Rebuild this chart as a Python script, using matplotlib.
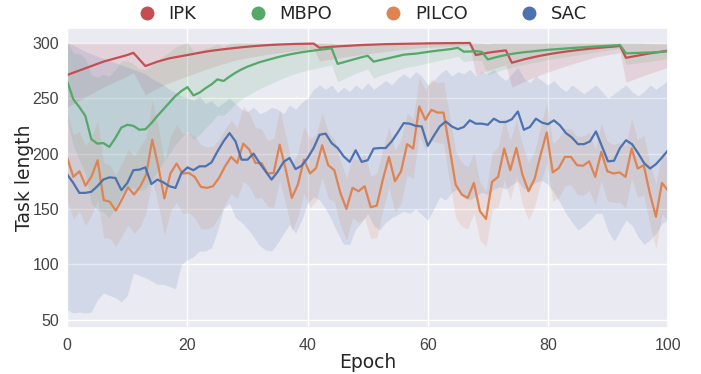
import numpy as np
import matplotlib
matplotlib.use('Agg')
import matplotlib.pyplot as plt
from matplotlib.lines import Line2D
import seaborn as sns

epochs = np.arange(101)
pilco_x = np.linspace(0, 100, 100)

ipk = [271, 273, 275, 277, 279, 281, 283, 284.5, 286, 287.5, 289, 291,
       285,
       279, 281, 283, 284.5, 286, 287, 288, 289, 290, 291, 292, 292.8, 293.5, 294.2, 294.8,
       295.4, 296, 296.5, 297, 297.4, 297.8, 298.1, 298.4, 298.6, 298.8, 299, 299.1, 299.2, 299.3,
       295.5, 296, 296.4, 296.8, 297.1, 297.4, 297.7, 298, 298.2, 298.4, 298.6, 298.8, 298.9,
       299, 299.1, 299.2, 299.3, 299.4, 299.5, 299.6, 299.6, 299.7, 299.7, 299.8, 299.8, 299.9,
       289, 290, 291, 291.8, 292.5, 293.2,
       282, 283.5, 285, 286.3, 287.5, 288.6, 289.6, 290.5, 291.3, 292.1, 292.8, 293.5, 294.1,
       294.7, 295.2, 295.7, 296.2, 296.6, 297.2,
       286.5, 287.5, 288.5, 289.5, 290.5, 291.3, 292.1, 293]
ipk_std = [29, 28, 27, 26, 25, 24, 23, 22, 21, 20, 19, 18,
           22,
           26, 25, 24, 23, 22, 21, 20, 19, 18, 17, 16, 15, 14, 13, 12, 11, 10.5, 10, 9.5, 9,
           8.5, 8, 7.5, 7, 6.5, 6, 5.5, 5, 4.5,
           12, 11.5, 11, 10.5, 10, 9.5, 9, 8.5, 8, 7.5, 7, 6.5, 6, 5.5, 5, 4.5, 4, 3.8, 3.6,
           3.4, 3.2, 3, 2.8, 2.6, 2.4, 2.2,
           18, 17, 16, 15, 14, 13,
           22, 21, 20, 19, 18, 17, 16, 15, 14, 13, 12, 11, 10, 9, 8, 7.5, 7, 6.5, 6,
           22, 21, 20, 19, 18, 17, 16, 15]

mbpo = [265, 249, 242, 234, 213, 209, 209.5, 206, 214, 223.5,
        226, 225, 221.5, 222, 227.5, 234, 240, 246, 252, 256.5,
        260, 252.5, 255, 259, 262.5, 267, 265.5, 269.5, 273, 276,
        278.5, 280.5, 282.5, 284, 285.5, 287, 288.3, 289.5, 290.5, 291.5,
        292.3, 293, 293.7, 294.3, 295, 281, 282.5, 284, 285.5, 287,
        288.3, 283, 284.3, 285.5, 286.8, 288, 289.3, 289.8, 290.2, 291,
        291.8, 292.5, 293.2, 293.8, 294.5, 295.5, 292, 292.2, 292.5, 291.8,
        285, 286.5, 287.8, 289, 290, 290.8, 291.5, 292, 292.6, 293.2,
        293.7, 294.1, 294.5, 294.9, 295.3, 295.7, 296, 296.4, 296.7, 297,
        297.3, 297.6, 298, 290.5, 290.7, 290.9, 291.1, 291.3, 291.5, 291.8,
        292.3]
mbpo_std = [35, 42, 48, 52, 58, 60, 62, 64, 62, 60,
            58, 56, 55, 54, 52, 50, 48, 46, 44, 42,
            40, 40, 38, 36, 34, 32, 31, 30, 28, 27,
            26, 25, 24, 23, 22, 21, 20, 19, 18, 17.5,
            17, 16.5, 16, 15.5, 15, 16, 15, 14, 13, 12.5,
            12, 15, 14, 13.5, 13, 12.5, 12, 11.5, 11, 10.5,
            10, 9.5, 9, 8.5, 8, 7.5, 9, 8.5, 8, 8,
            14, 13.5, 13, 12.5, 12, 11.5, 11, 10.5, 10, 9.5,
            9, 8.5, 8, 7.5, 7, 6.5, 6, 5.5, 5, 4.5,
            4, 3.5, 3, 10, 9.5, 9, 8.5, 8, 7.5, 7,
            6.5]

pilco = [196, 179, 184, 171, 179.5, 194, 158, 156.5, 148.5, 158.5,
         169.5, 163, 170, 181, 212.5, 188.5, 159.5, 182, 191, 182,
         182.5, 179, 170, 169, 170.5, 178, 188.5, 197, 191.5, 209,
         203.5, 191.5, 191.5, 182, 182.5, 208, 185.5, 160, 172, 194.5,
         182, 187, 207.5, 189.5, 185, 164.5, 150, 169, 166, 170.5,
         151.5, 153, 176.5, 197, 175, 184, 208.5, 204.5, 242.5, 230.5,
         239.5, 237, 237, 205, 172, 163, 160, 173.5, 148, 141,
         174.5, 179, 204.5, 185, 205, 181, 166, 177, 199, 219,
         183, 187, 197, 197, 189.5, 189, 193, 179, 201.5, 184,
         182, 183, 179, 204.5, 186.5, 189.5, 164, 143, 173.5, 166.5]
pilco_std = [40, 38, 36, 36, 35, 36, 34, 33, 32, 33,
             34, 35, 36, 34, 36, 35, 33, 34, 35, 36,
             36, 37, 38, 37, 36, 35, 34, 33, 32, 34,
             33, 32, 31, 30, 31, 32, 31, 30, 29, 30,
             31, 30, 29, 30, 28, 29, 28, 27, 28, 29,
             28, 29, 28, 27, 28, 29, 28, 27, 26, 27,
             28, 27, 28, 30, 30, 29, 28, 27, 26, 25,
             26, 27, 28, 27, 26, 27, 26, 25, 26, 27,
             26, 27, 26, 25, 26, 27, 26, 25, 26, 27,
             26, 27, 28, 27, 26, 27, 28, 29, 28, 27]

sac = [181, 173.5, 164.5, 164.5, 165.5, 170.5, 176.5, 178.5, 178, 167,
       173.5, 185, 185.5, 187.5, 172.5, 176.5, 174, 170.5, 169, 182.5,
       187.5, 185, 188.5, 188.5, 192, 202, 211, 218.5, 211, 194.5,
       194.5, 200, 191.5, 184, 176.5, 183.5, 192.5, 196, 186, 189,
       196, 205, 217, 218, 209.5, 205, 197.5, 192.5, 203, 192.5,
       194, 204.5, 205, 205, 211, 219, 227.5, 227, 225, 224.5,
       207, 216, 224.5, 229, 224.5, 222, 224, 230, 227, 227,
       226, 231.5, 228.5, 228.5, 231, 238, 221.5, 224, 231.5, 228,
       226.5, 230, 225.5, 218.5, 214.5, 208.5, 208.5, 211, 220, 206.5,
       193, 193.5, 205, 212, 208.5, 200.5, 191.5, 186.5, 190.5, 196.5,
       203]
sac_lo = [59, 56, 57, 56, 57, 68, 74, 72, 70, 66,
          72, 92, 90, 88, 85, 82, 82, 80, 78, 100,
          104, 107, 112, 112, 115, 130, 150, 155, 142, 138,
          132, 125, 117, 113, 112, 119, 128, 136, 128, 140,
          155, 161, 158, 150, 140, 128, 118, 118, 132, 138,
          146, 135, 131, 138, 142, 145, 148, 146, 150, 145,
          140, 150, 161, 158, 165, 168, 160, 158, 162, 165,
          163, 168, 170, 168, 172, 175, 168, 170, 174, 176,
          172, 165, 156, 146, 138, 131, 135, 140, 146, 146,
          130, 121, 130, 140, 135, 125, 118, 122, 128, 137,
          140]
sac_hi = [300, 298, 295, 292, 290, 288, 286, 284, 282, 280,
          278, 276, 274, 272, 268, 265, 262, 258, 255, 252,
          250, 248, 252, 245, 248, 242, 246, 250, 245, 240,
          238, 242, 236, 238, 242, 240, 236, 244, 240, 246,
          250, 258, 262, 258, 262, 255, 260, 256, 262, 258,
          264, 258, 262, 266, 262, 268, 272, 268, 274, 270,
          262, 266, 272, 276, 270, 274, 272, 276, 270, 274,
          272, 276, 270, 266, 272, 278, 268, 264, 270, 266,
          262, 266, 260, 256, 262, 258, 254, 258, 262, 256,
          250, 254, 258, 262, 256, 252, 256, 262, 258, 262,
          266]

labels = ['IPK', 'MBPO', 'PILCO', 'SAC']
colors = ['#C44E52', '#55A868', '#DD8452', '#4C72B0']

sns.set_theme(style='darkgrid')
plt.rcParams['font.family'] = ['DejaVu Sans']

fig = plt.figure(figsize=(7.01, 3.74), dpi=100)
ax = fig.add_axes([0.096, 0.123, 0.857, 0.801])

cap = 300
series = [
    (epochs, np.array(ipk), np.array(ipk) - np.array(ipk_std), np.minimum(np.array(ipk) + np.array(ipk_std), cap)),
    (epochs, np.array(mbpo), np.array(mbpo) - np.array(mbpo_std), np.minimum(np.array(mbpo) + np.array(mbpo_std), cap)),
    (pilco_x, np.array(pilco), np.array(pilco) - np.array(pilco_std), np.minimum(np.array(pilco) + np.array(pilco_std), cap)),
    (epochs, np.array(sac), np.array(sac_lo), np.minimum(np.array(sac_hi), cap)),
]

for (x, y, lo, hi), c in zip(series, colors):
    ax.fill_between(x, lo, hi, color=c, alpha=0.15, linewidth=0)
for (x, y, lo, hi), c in zip(series, colors):
    ax.plot(x, y, color=c, linewidth=1.6)

ax.set_xlim(0, 100)
ax.set_ylim(42.5, 313)
ax.set_xticks([0, 20, 40, 60, 80, 100])
ax.set_yticks([50, 100, 150, 200, 250, 300])
for t in ax.get_xticklabels() + ax.get_yticklabels():
    t.set_fontfamily('Liberation Sans')
    t.set_fontsize(11.5)
    t.set_color('#444444')
ax.tick_params(axis='x', pad=1)
ax.tick_params(axis='y', pad=0)
ax.set_xlabel('Epoch', fontsize=13.5, labelpad=0)
ax.set_ylabel('Task length', fontsize=13.5, labelpad=-1)

handles = [Line2D([], [], marker='o', linestyle='', color=c, markersize=9) for c in colors]
fig.legend(handles, labels, loc='center', bbox_to_anchor=(0.517, 0.962), ncol=4,
           frameon=False, fontsize=13, handlelength=1.0, handletextpad=0.7, columnspacing=2.9)

fig.savefig('out.png', dpi=100)
